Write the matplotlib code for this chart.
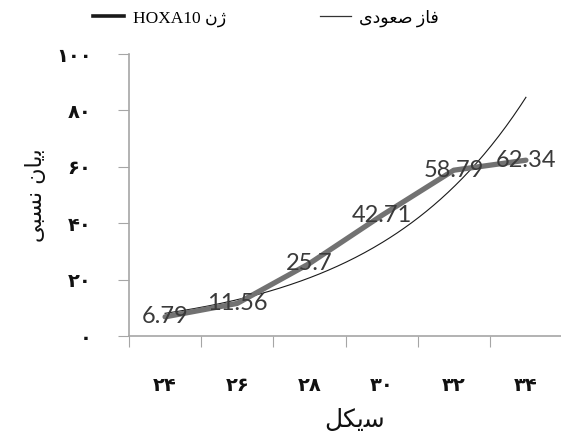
import numpy as np
import matplotlib.pyplot as plt
from matplotlib.lines import Line2D

# Persian text is stored in visual order using Arabic presentation forms,
# since matplotlib does no RTL shaping on its own
cycle_labels = ['\u06F2\u06F4', '\u06F2\u06F6', '\u06F2\u06F8', '\u06F3\u06F0', '\u06F3\u06F2', '\u06F3\u06F4']
expression = [6.79, 11.56, 25.7, 42.71, 58.79, 62.34]
y_ticks = [0, 20, 40, 60, 80, 100]
y_tick_labels = ['\u06F0', '\u06F2\u06F0', '\u06F4\u06F0', '\u06F6\u06F0', '\u06F8\u06F0', '\u06F1\u06F0\u06F0']

label_gene = 'HOXA10 \uFEE5\uFB8A'                        # ژن HOXA10
label_trend = '\uFBFC\uFEA9\uFEEE\uFECC\uFEBB \uFEAF\uFE8E\uFED3'  # فاز صعودی
x_title = '\uFEDE\uFB91\uFBFE\uFEB3'                     # سیکل
y_title = '\uFBFD\uFE92\uFEB4\uFEE7 \uFEE5\uFE8E\uFBFE\uFE91'  # بیان نسبی

axis_grey = '#a6a6a6'

x = np.arange(1, len(expression) + 1)

# exponential trendline of the series (as the spreadsheet drew it)
b, a = np.polyfit(x, np.log(expression), 1)
xs = np.linspace(1, len(expression), 200)
trend = np.exp(a + b * xs)

fig = plt.figure(figsize=(5.61, 4.45), dpi=100)
ax = fig.add_axes([129/561, 109/445, 433/561, 282/445])

ax.plot(x, expression, color='#727272', lw=3.8, solid_capstyle='round', zorder=3)
ax.plot(xs, trend, color='#1a1a1a', lw=0.8, zorder=2)

for xi, v in zip(x, expression):
    ax.text(xi, v, f'{v:g}', ha='center', va='center', fontsize=17,
            family=['Lato', 'DejaVu Sans'], color='#3a3a3a', zorder=4)

ax.set_xlim(0.5, 6.5)
ax.set_ylim(0, 100)

ax.set_xticks(np.arange(0.5, 7, 1))
ax.set_xticklabels([])
ax.set_xticks(x, minor=True)
ax.set_xticklabels(cycle_labels, minor=True, fontsize=14, fontweight='bold',
                   family='DejaVu Sans', color='#111111')
ax.tick_params(axis='x', which='major', length=8, color=axis_grey, direction='out')
ax.tick_params(axis='x', which='minor', length=0, pad=29)

ax.set_yticks(y_ticks)
ax.set_yticklabels(y_tick_labels, fontsize=14, fontweight='bold',
                   family='DejaVu Sans', color='#111111')
ax.tick_params(axis='y', length=8, color=axis_grey, direction='out', pad=19)

for s in ['top', 'right']:
    ax.spines[s].set_visible(False)
for s in ['left', 'bottom']:
    ax.spines[s].set_color(axis_grey)
    ax.spines[s].set_linewidth(1.2)

fig.text(355/561, 1 - 420/445, x_title, ha='center', va='center', fontsize=18,
         family='DejaVu Sans', color='#111111')
fig.text(36/561, 1 - 195/445, y_title, ha='center', va='center', rotation=90,
         fontsize=16, family='DejaVu Sans', color='#111111')

handles = [Line2D([], [], color='#1a1a1a', lw=2.6),
           Line2D([], [], color='#333333', lw=0.9)]
fig.legend(handles, [label_gene, label_trend], loc='center',
           bbox_to_anchor=(266/561, 1 - 18/445), ncol=2, frameon=False,
           prop={'family': ['Liberation Serif', 'DejaVu Sans'], 'size': 12.5},
           handlelength=1.8, handletextpad=0.5, columnspacing=5.4)

fig.savefig('out.png', dpi=100)
